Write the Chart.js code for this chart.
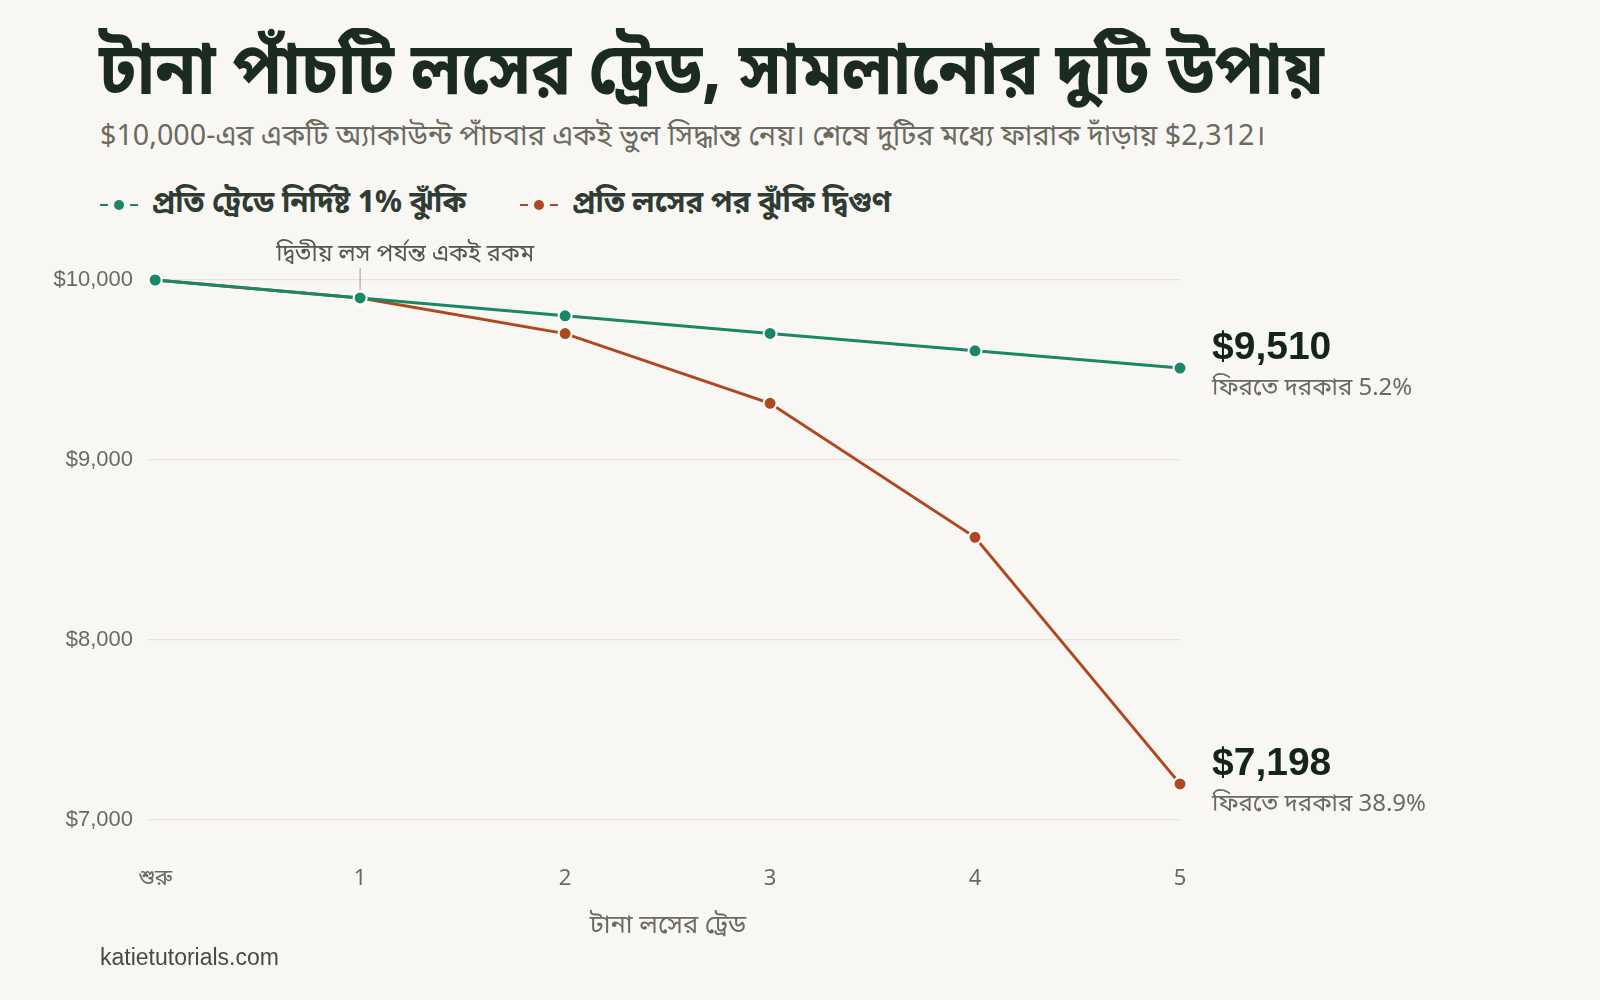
<!DOCTYPE html>
<html>
<head>
<meta charset="utf-8">
<script src="https://cdn.jsdelivr.net/npm/chart.js@4.4.1/dist/chart.umd.min.js"></script>
<style>
  html, body { margin: 0; padding: 0; background: #f8f7f3; }
  body { width: 1600px; height: 1000px; position: relative; overflow: hidden;
         font-family: "Noto Sans Bengali", "Liberation Sans", "Noto Sans", sans-serif; }
  #wrap { position: absolute; left: 0; top: 0; width: 1600px; height: 1000px; }
  .title { position: absolute; left: 99px; top: 28px; font-size: 67px; font-weight: 700;
           color: #1b2a22; white-space: nowrap; letter-spacing: -0.3px;
           transform: scaleY(1.08); transform-origin: left top; }
  .subtitle { position: absolute; left: 100px; top: 119px; font-size: 28.7px; color: #6b6a5f; white-space: nowrap; }
  .legend { position: absolute; left: 100px; top: 185px; font-size: 29.5px; font-weight: 700; color: #2f3b33;
            display: flex; white-space: nowrap; }
  .legend .item { display: flex; align-items: center; margin-right: 54px; }
  .legend .mk { position: relative; width: 38px; height: 10px; margin-right: 14px; }
  .legend .mk .d1, .legend .mk .d2 { position: absolute; top: 4px; width: 8px; height: 2.5px; }
  .legend .mk .d1 { left: 0; } .legend .mk .d2 { right: 0; }
  .legend .mk .dot { position: absolute; left: 14px; top: 0; width: 10px; height: 10px; border-radius: 50%; }
  .xtitle { position: absolute; left: 668px; top: 910px; transform: translateX(-50%); font-size: 25.5px; color: #6b6a5f; white-space: nowrap; }
  .source { position: absolute; left: 100px; top: 944px; font-size: 23px; color: #4a4a42; font-family: "Liberation Sans", sans-serif; }
</style>
</head>
<body>
<div class="title">টানা পাঁচটি লসের ট্রেড, সামলানোর দুটি উপায়</div>
<div class="subtitle">$10,000-এর একটি অ্যাকাউন্ট পাঁচবার একই ভুল সিদ্ধান্ত নেয়। শেষে দুটির মধ্যে ফারাক দাঁড়ায় $2,312।</div>
<div class="legend" id="legend"></div>
<div id="wrap"><canvas id="chart" width="1600" height="1000"></canvas></div>
<div class="xtitle">টানা লসের ট্রেড</div>
<div class="source">katietutorials.com</div>
<script>
const categories = ["শুরু", "1", "2", "3", "4", "5"];
const fixedRisk = [10000, 9900, 9801, 9703, 9606, 9510];
const doubledRisk = [10000, 9900, 9702, 9314, 8569, 7198];
const yTicks = [7000, 8000, 9000, 10000];
const seriesNames = ["প্রতি ট্রেডে নির্দিষ্ট 1% ঝুঁকি", "প্রতি লসের পর ঝুঁকি দ্বিগুণ"];
const seriesColors = ["#1a8766", "#b0481f"];
const startValue = 10000;
const noteText = "দ্বিতীয় লস পর্যন্ত একই রকম";
const recoverText = "ফিরতে দরকার";

// legend in html
const legendEl = document.getElementById("legend");
seriesNames.forEach((name, i) => {
  const c = seriesColors[i];
  legendEl.innerHTML += `
    <div class="item">
      <span class="mk">
        <span class="d1" style="background:${c}"></span>
        <span class="dot" style="background:${c}"></span>
        <span class="d2" style="background:${c}"></span>
      </span>
      <span>${name}</span>
    </div>`;
});

const toPoints = arr => arr.map((v, i) => ({ x: i, y: v }));
const fmt = v => "$" + Math.round(v).toLocaleString("en-US");

const endLabels = {
  id: "endLabels",
  afterDatasetsDraw(chart) {
    const { ctx } = chart;
    ctx.save();
    chart.data.datasets.forEach((ds, i) => {
      const meta = chart.getDatasetMeta(i);
      const last = meta.data[meta.data.length - 1];
      const val = ds.data[ds.data.length - 1].y;
      const need = ((startValue / val - 1) * 100).toFixed(1);
      const x = last.x + 32;
      ctx.textAlign = "left";
      ctx.textBaseline = "middle";
      ctx.fillStyle = "#14231b";
      ctx.font = "bold 39px 'Liberation Sans', sans-serif";
      ctx.fillText(fmt(val), x, last.y - 20);
      ctx.fillStyle = "#6b6a5f";
      ctx.font = "24px 'Noto Sans Bengali', 'Liberation Sans', sans-serif";
      ctx.fillText(`${recoverText} ${need}%`, x, last.y + 22);
    });

    // annotation at trade 1
    const p = chart.getDatasetMeta(0).data[1];
    ctx.strokeStyle = "#bdbbb2";
    ctx.lineWidth = 1.5;
    ctx.beginPath();
    ctx.moveTo(p.x, p.y - 30);
    ctx.lineTo(p.x, p.y - 8);
    ctx.stroke();
    ctx.fillStyle = "#55554d";
    ctx.font = "23.5px 'Noto Sans Bengali', 'Liberation Sans', sans-serif";
    ctx.textAlign = "left";
    ctx.textBaseline = "middle";
    ctx.fillText(noteText, p.x - 84, p.y - 41);
    ctx.restore();
  }
};

new Chart(document.getElementById("chart"), {
  type: "line",
  data: {
    datasets: [
      { label: seriesNames[0], data: toPoints(fixedRisk) },
      { label: seriesNames[1], data: toPoints(doubledRisk) }
    ].map((d, i) => ({
      ...d,
      borderColor: seriesColors[i],
      backgroundColor: seriesColors[i],
      pointBackgroundColor: seriesColors[i],
      pointBorderColor: "#ffffff",
      pointBorderWidth: 2,
      pointRadius: 6.5,
      borderWidth: 3,
      tension: 0,
      clip: false,
      order: i
    }))
  },
  options: {
    responsive: false,
    animation: false,
    devicePixelRatio: 1,
    layout: { padding: { top: 280, right: 420, left: 0, bottom: 0 } },
    plugins: { legend: { display: false }, tooltip: { enabled: false } },
    scales: {
      x: {
        type: "linear",
        min: -0.035,
        max: 5,
        afterFit: a => { a.height = 180.5; },
        afterBuildTicks: a => { a.ticks = categories.map((_, i) => ({ value: i })); },
        grid: { display: false },
        border: { display: false },
        ticks: {
          padding: 40,
          color: "#6b6a5f",
          font: { size: 22, family: "'Noto Sans Bengali', 'Liberation Sans', sans-serif" },
          callback: v => categories[v]
        }
      },
      y: {
        min: 7000,
        max: 10000,
        afterFit: a => { a.width = 148; },
        afterBuildTicks: a => { a.ticks = yTicks.map(v => ({ value: v })); },
        grid: { color: "#e6e4dd", lineWidth: 1.2, drawTicks: false },
        border: { display: false },
        ticks: {
          padding: 15,
          color: "#6b6a5f",
          font: { size: 22, family: "'Liberation Sans', sans-serif" },
          callback: v => fmt(v)
        }
      }
    }
  },
  plugins: [endLabels]
});
</script>
</body>
</html>
